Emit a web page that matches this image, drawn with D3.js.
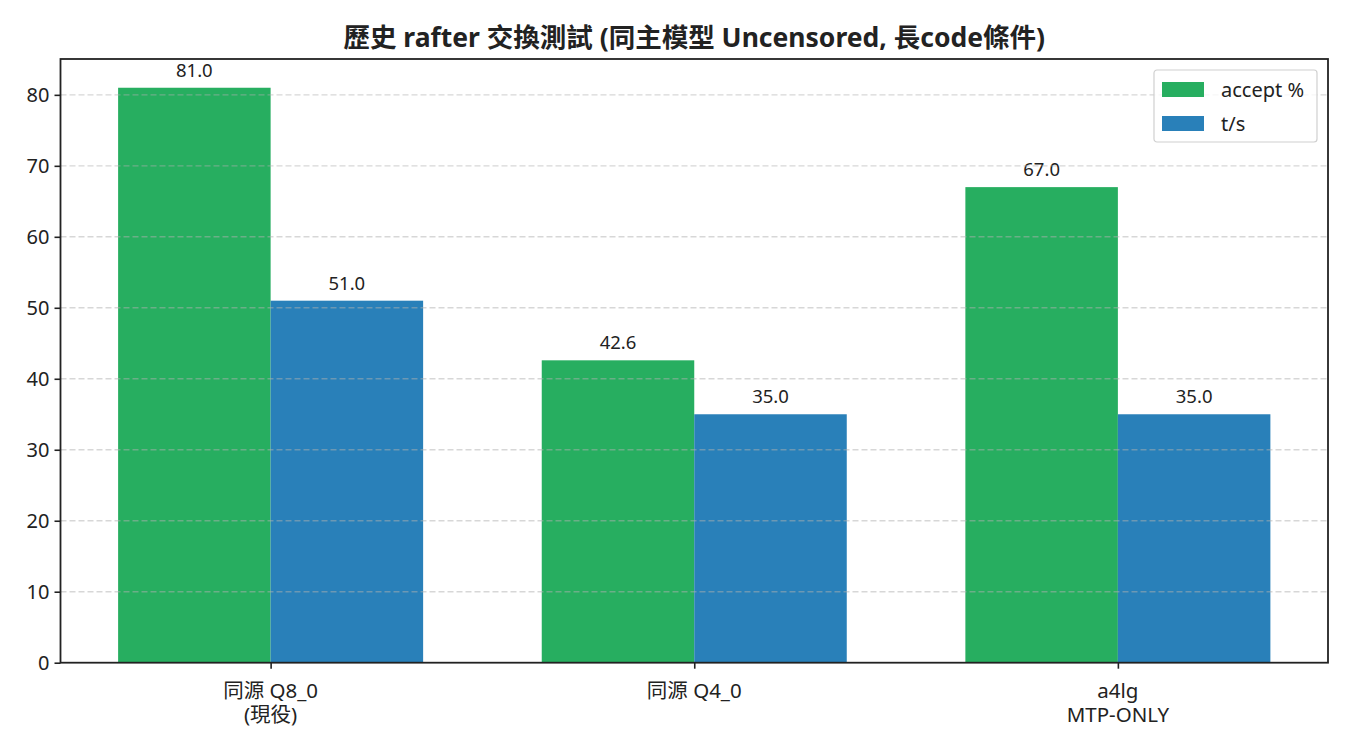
<!DOCTYPE html>
<html>
<head>
<meta charset="utf-8">
<script src="https://cdn.jsdelivr.net/npm/d3@7"></script>
<style>
body { margin: 0; background: #fff; }
text { font-family: "Noto Sans", "Noto Sans CJK TC", sans-serif; fill: #222; }
</style>
</head>
<body>
<div id="chart"></div>
<script>
var categories = [["同源 Q8_0", "(現役)"], ["同源 Q4_0"], ["a4lg", "MTP-ONLY"]];
var seriesNames = ["accept %", "t/s"];
var acceptPct = [81.0, 42.6, 67.0];
var tokPerSec = [51.0, 35.0, 35.0];
var yTicks = [0, 10, 20, 30, 40, 50, 60, 70, 80];
var colors = ["#27ae60", "#2980b9"];

function init(){
    var w = 1350, h = 750;
    var left = 60.5, right = 1328, top = 59, bottom = 662.7;
    var barW = 0.36;
    var font = "\"Noto Sans\", \"Noto Sans CJK TC\", sans-serif";

    var svg = d3.select("#chart").append("svg")
        .attr("width", w).attr("height", h);

    var x = d3.scaleLinear().domain([-0.496, 2.496]).range([left, right]);
    var y = d3.scaleLinear().domain([0, 85.05]).range([bottom, top]);

    var series = [acceptPct, tokPerSec];

    // bars + value labels
    series.forEach(function(vals, s){
        svg.append("g").selectAll("rect")
            .data(vals)
            .enter()
            .append("rect")
            .attr("x", function(d, i){ return x(i + (s === 0 ? -barW : 0)); })
            .attr("width", x(barW) - x(0))
            .attr("y", function(d){ return y(d); })
            .attr("height", function(d){ return y(0) - y(d); })
            .attr("fill", colors[s]);

        svg.append("g").selectAll("text")
            .data(vals)
            .enter()
            .append("text")
            .text(function(d){ return d.toFixed(1); })
            .attr("x", function(d, i){ return x(i + (s === 0 ? -barW / 2 : barW / 2)); })
            .attr("y", function(d){ return y(d) - 11; })
            .attr("text-anchor", "middle")
            .attr("font-size", "18.5px");
    });

    // grid over bars
    svg.append("g").selectAll("line")
        .data(yTicks.filter(function(t){ return t > 0; }))
        .enter()
        .append("line")
        .attr("x1", left).attr("x2", right)
        .attr("y1", function(d){ return y(d); })
        .attr("y2", function(d){ return y(d); })
        .attr("stroke", "#b0b0b0")
        .attr("stroke-opacity", 0.5)
        .attr("stroke-width", 1.4)
        .attr("stroke-dasharray", "6,3");

    // y axis
    var yAxis = d3.axisLeft(y).tickValues(yTicks).tickSize(6).tickPadding(5).tickFormat(d3.format("d"));
    var gy = svg.append("g").attr("transform", "translate(" + left + ",0)").call(yAxis);
    gy.select(".domain").remove();
    gy.selectAll("line").attr("stroke", "#222").attr("stroke-width", 1.6);
    gy.selectAll("text").attr("font-size", "20px").style("font-family", font).attr("fill", "#222");

    // x axis
    var xAxis = d3.axisBottom(x).tickValues([0, 1, 2]).tickSize(6).tickFormat("");
    var gx = svg.append("g").attr("transform", "translate(0," + bottom + ")").call(xAxis);
    gx.select(".domain").remove();
    gx.selectAll("line").attr("stroke", "#222").attr("stroke-width", 1.6);

    svg.append("g").selectAll("text")
        .data(categories)
        .enter()
        .append("text")
        .attr("x", function(d, i){ return x(i); })
        .attr("y", bottom + 35)
        .attr("text-anchor", "middle")
        .attr("font-size", "20.5px")
        .each(function(d){
            var t = d3.select(this);
            d.forEach(function(line, k){
                t.append("tspan").attr("x", t.attr("x")).attr("dy", k === 0 ? 0 : 24).text(line);
            });
        });

    // frame
    svg.append("rect")
        .attr("x", left).attr("y", top)
        .attr("width", right - left).attr("height", bottom - top)
        .attr("fill", "none").attr("stroke", "#222").attr("stroke-width", 1.8);

    // title
    svg.append("text")
        .text("歷史 rafter 交換測試 (同主模型 Uncensored, 長code條件)")
        .attr("x", (left + right) / 2)
        .attr("y", 47)
        .attr("text-anchor", "middle")
        .attr("font-size", "26.5px")
        .attr("font-weight", "bold");

    // legend
    var lg = svg.append("g").attr("transform", "translate(1154,70)");
    lg.append("rect")
        .attr("width", 163).attr("height", 72).attr("rx", 3)
        .attr("fill", "#fff").attr("fill-opacity", 0.8)
        .attr("stroke", "#d0d0d0").attr("stroke-width", 1.2);
    seriesNames.forEach(function(name, i){
        lg.append("rect")
            .attr("x", 8).attr("y", 12 + i * 34)
            .attr("width", 42).attr("height", 15)
            .attr("fill", colors[i]);
        lg.append("text")
            .text(name)
            .attr("x", 67).attr("y", 27 + i * 34)
            .attr("font-size", "20px");
    });
}

window.onload = init;
</script>
</body>
</html>
